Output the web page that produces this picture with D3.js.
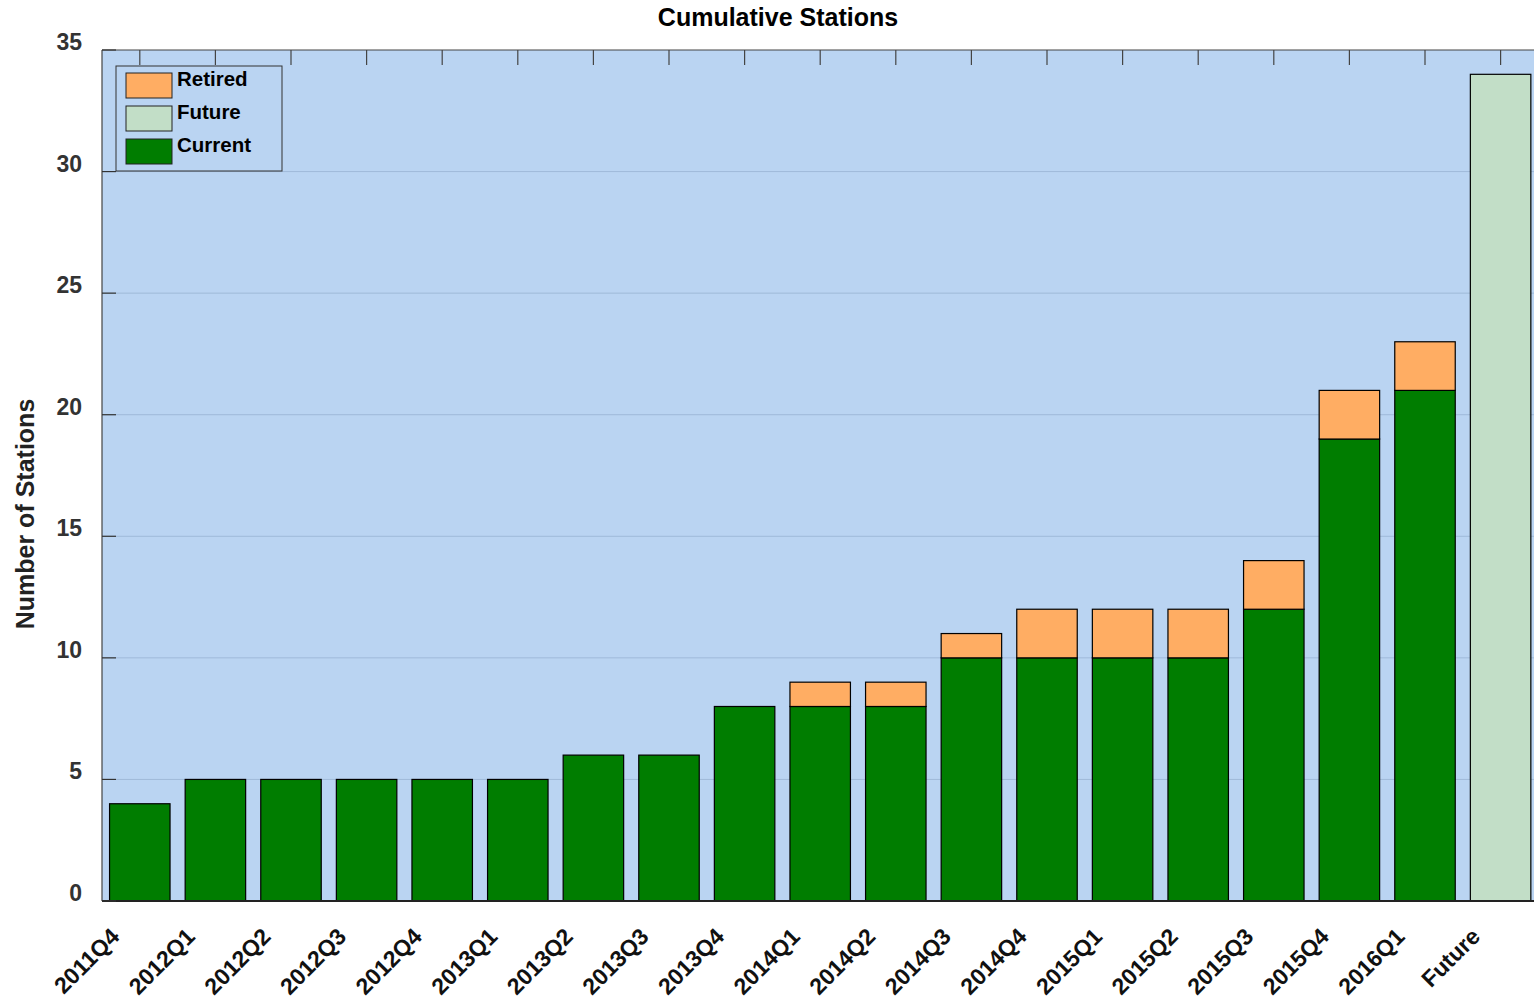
<!DOCTYPE html>
<html>
<head>
<meta charset="utf-8">
<script src="https://cdn.jsdelivr.net/npm/d3@7"></script>
<style>
  body { margin: 0; background: #fff; }
  text { font-family: "Liberation Sans", Arial, sans-serif; font-weight: bold; }
</style>
</head>
<body>
<div id="chart"></div>
<script>
// data
const quarters = ["2011Q4", "2012Q1", "2012Q2", "2012Q3", "2012Q4", "2013Q1", "2013Q2", "2013Q3", "2013Q4",
  "2014Q1", "2014Q2", "2014Q3", "2014Q4", "2015Q1", "2015Q2", "2015Q3", "2015Q4", "2016Q1", "Future"];
const current = [4, 5, 5, 5, 5, 5, 6, 6, 8, 8, 8, 10, 10, 10, 10, 12, 19, 21, 0];
const retired = [0, 0, 0, 0, 0, 0, 0, 0, 0, 1, 1, 1, 2, 2, 2, 2, 2, 2, 0];
const future = [0, 0, 0, 0, 0, 0, 0, 0, 0, 0, 0, 0, 0, 0, 0, 0, 0, 0, 34];
const yTicks = [0, 5, 10, 15, 20, 25, 30, 35];

const W = 1534, H = 1002;
const margin = {top: 50, left: 102, bottom: 101};
const plotH = H - margin.top - margin.bottom;
const step = 75.6;
const plotW = step * quarters.length;

const colors = {current: "#007d00", retired: "#ffad63", future: "#c2dec7"};

var svg = d3.select("#chart").append("svg").attr("width", W).attr("height", H);
var g = svg.append("g").attr("transform", "translate(" + margin.left + "," + margin.top + ")");

var x = d3.scaleBand().domain(quarters).range([0, plotW]).paddingInner(0.2).paddingOuter(0.1);
var y = d3.scaleLinear().domain([0, 35]).range([plotH, 0]);

// background
g.append("rect").attr("x", 0).attr("y", 0).attr("width", plotW).attr("height", plotH).attr("fill", "#bad4f2");

// grid
g.selectAll(".grid").data(yTicks.filter(d => d > 0 && d < 35)).enter().append("line")
  .attr("x1", 0).attr("x2", plotW)
  .attr("y1", d => y(d)).attr("y2", d => y(d))
  .attr("stroke", "#9fb9d9").attr("stroke-width", 1);

// stacked bars
const rows = quarters.map((q, i) => ({q: q, current: current[i], retired: retired[i], future: future[i]}));
const stack = d3.stack().keys(["current", "retired", "future"])(rows);

stack.forEach(layer => {
  g.append("g").selectAll("rect")
    .data(layer.filter(d => d[1] - d[0] > 0))
    .enter().append("rect")
    .attr("x", d => x(d.data.q))
    .attr("width", x.bandwidth())
    .attr("y", d => y(d[1]))
    .attr("height", d => y(d[0]) - y(d[1]))
    .attr("fill", colors[layer.key])
    .attr("stroke", "#000")
    .attr("stroke-width", 1.2);
});

// axes frame
g.append("line").attr("x1", 0).attr("x2", plotW).attr("y1", 0).attr("y2", 0).attr("stroke", "#444").attr("stroke-width", 1.2);
g.append("line").attr("x1", 0).attr("x2", 0).attr("y1", 0).attr("y2", plotH).attr("stroke", "#444").attr("stroke-width", 1.2);
g.append("line").attr("x1", 0).attr("x2", plotW).attr("y1", plotH).attr("y2", plotH).attr("stroke", "#222").attr("stroke-width", 2);

// top ticks
g.selectAll(".ttick").data(quarters).enter().append("line")
  .attr("x1", d => x(d) + x.bandwidth() / 2).attr("x2", d => x(d) + x.bandwidth() / 2)
  .attr("y1", 0).attr("y2", 15)
  .attr("stroke", "#444").attr("stroke-width", 1.2);

// left ticks + labels
g.selectAll(".ltick").data(yTicks).enter().append("line")
  .attr("x1", 0).attr("x2", 14)
  .attr("y1", d => y(d)).attr("y2", d => y(d))
  .attr("stroke", "#333").attr("stroke-width", 1.2);

g.selectAll(".ylab").data(yTicks).enter().append("text")
  .attr("x", -20).attr("y", d => y(d))
  .attr("text-anchor", "end")
  .attr("font-size", 23)
  .attr("fill", "#333")
  .text(d => d);

// x labels
g.selectAll(".xlab").data(quarters).enter().append("text")
  .attr("transform", d => "translate(" + (x(d) + x.bandwidth() / 2 - 19) + "," + (plotH + 37) + ") rotate(-45)")
  .attr("text-anchor", "end")
  .attr("font-size", 23)
  .attr("fill", "#111")
  .text(d => d);

// title
svg.append("text").attr("x", 778).attr("y", 26).attr("text-anchor", "middle")
  .attr("font-size", 25).attr("fill", "#000").text("Cumulative Stations");

// y axis title
svg.append("text").attr("transform", "translate(34," + 514 + ") rotate(-90)")
  .attr("text-anchor", "middle").attr("font-size", 25).attr("fill", "#222")
  .text("Number of Stations");

// legend
const legendItems = [["Retired", colors.retired], ["Future", colors.future], ["Current", colors.current]];
var lg = svg.append("g").attr("transform", "translate(116,66)");
lg.append("rect").attr("width", 166).attr("height", 105).attr("fill", "#bad4f2").attr("stroke", "#333").attr("stroke-width", 1);
legendItems.forEach((it, i) => {
  lg.append("rect").attr("x", 10).attr("y", 7 + i * 33).attr("width", 46).attr("height", 25)
    .attr("fill", it[1]).attr("stroke", "#222").attr("stroke-width", 1);
  lg.append("text").attr("x", 61).attr("y", 20 + i * 33).attr("font-size", 20.5).attr("fill", "#000").text(it[0]);
});
</script>
</body>
</html>
